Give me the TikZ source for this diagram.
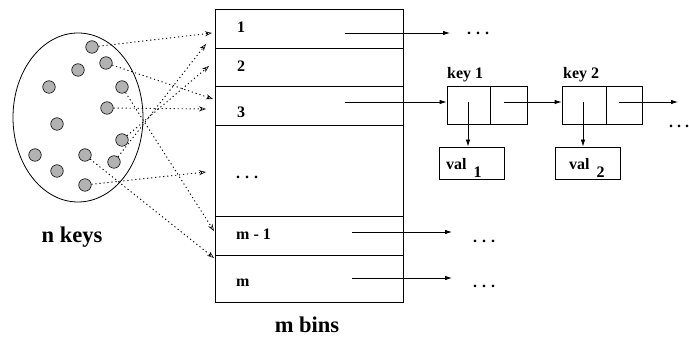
\documentclass[tikz,border=0pt]{standalone}
\usepackage{fontspec}
\setmainfont{Liberation Serif}
\usetikzlibrary{arrows.meta,shapes.geometric}

\begin{document}
\begin{tikzpicture}[x=1pt,y=-1pt,
  keydot/.style={circle,draw,fill=black!30,minimum size=12.5pt,inner sep=0pt,line width=0.6pt},
  bin/.style={draw,rectangle,inner sep=0pt,minimum width=188pt,line width=0.8pt},
  cell/.style={draw,rectangle,inner sep=0pt,minimum height=38pt,line width=0.8pt},
  valbox/.style={draw,rectangle,inner sep=0pt,minimum width=65pt,minimum height=32pt,line width=0.8pt},
  small/.style={font=\fontsize{16}{18}\selectfont\bfseries,inner sep=0pt},
  big/.style={font=\fontsize{22.5}{24}\selectfont\bfseries,inner sep=0pt},
  hashptr/.style={dash pattern=on 1.2pt off 2.8pt,line width=0.9pt,
    -{Stealth[open,length=7pt,width=5pt,line width=0.6pt,sep=0pt]}},
  ptr/.style={line width=0.8pt,-{Latex[length=7pt,width=4.5pt]}},
]
\useasboundingbox (0,0) rectangle (689,352);

% the set of keys
\node[ellipse,draw,line width=0.8pt,minimum width=130pt,minimum height=169pt] (set) at (78,117.5) {};
\node[keydot] (k1) at (92,47) {};
\node[keydot] (k2) at (106,63) {};
\node[keydot] (k3) at (78,70) {};
\node[keydot] (k4) at (49,87) {};
\node[keydot] (k5) at (122,87) {};
\node[keydot] (k6) at (107,108) {};
\node[keydot] (k7) at (57,124) {};
\node[keydot] (k8) at (122,140) {};
\node[keydot] (k9) at (35,155) {};
\node[keydot] (k10) at (85,155) {};
\node[keydot] (k11) at (114,162) {};
\node[keydot] (k12) at (57,171) {};
\node[keydot] (k13) at (85,185) {};
\node[big] (nkeys) at (72,237) {n keys};

% the table of bins
\node[bin,minimum height=39pt] (b1) at (309,28.5) {};
\node[bin,minimum height=38pt] (b2) at (309,67) {};
\node[bin,minimum height=39pt] (b3) at (309,105.5) {};
\node[bin,minimum height=91pt] (bd) at (309,170.5) {};
\node[bin,minimum height=39pt] (bm1) at (309,235.5) {};
\node[bin,minimum height=47pt] (bm) at (309,278.5) {};

\node[small,anchor=base west] (l1) at (237,33) {1};
\node[small,anchor=base west] (l2) at (237,72) {2};
\node[small,anchor=base west] (l3) at (237,118) {3};
\node[small,anchor=base west] (ld) at (236,179) {.\kern5pt.\kern5pt.};
\node[small,anchor=base west] (lm1) at (236,240) {m - 1};
\node[small,anchor=base west] (lm) at (236,287) {m};
\node[big] (mbins) at (307,325) {m bins};

% hashing of keys into bins
\coordinate (t1) at (212,33);
\coordinate (t2) at (213,99);
\coordinate (t3) at (206,109);
\coordinate (t4) at (206,44);
\coordinate (t5) at (209,66);
\coordinate (t6) at (214,231);
\coordinate (t7) at (206,172);
\coordinate (t8) at (214,258);
\draw[hashptr] (k1) -- (t1);
\draw[hashptr] (k2) -- (t2);
\draw[hashptr] (k6) -- (t3);
\draw[hashptr] (k11) -- (t4);
\draw[hashptr] (k8) -- (t5);
\draw[hashptr] (k5) -- (t6);
\draw[hashptr] (k13) -- (t7);
\draw[hashptr] (k10) -- (t8);

% chain of bin 3
\node[cell,minimum width=43pt] (c1a) at (468.5,105) {};
\node[cell,minimum width=37pt] (c1b) at (508.5,105) {};
\node[cell,minimum width=44pt] (c2a) at (584,105) {};
\node[cell,minimum width=36pt] (c2b) at (624,105) {};
\node[small,anchor=base west] (key1) at (447,79) {key 1};
\node[small,anchor=base west] (key2) at (563,79) {key 2};
\node[valbox] (v1) at (471.5,163) {};
\node[valbox] (v2) at (587.5,163) {};
\node[small,anchor=base west] (vt1) at (446,170) {val\kern7pt\raisebox{-8pt}{1}};
\node[small,anchor=base west] (vt2) at (569,170) {val\kern7pt\raisebox{-8pt}{2}};

\coordinate (p1s) at (345,33);
\coordinate (p1e) at (450,33);
\coordinate (p3s) at (345,102);
\coordinate (pm1s) at (352,232);
\coordinate (pm1e) at (452,232);
\coordinate (pms) at (352,278);
\coordinate (pme) at (452,278);
\coordinate (c1ap) at (468,102);
\coordinate (c1bp) at (504,102);
\coordinate (c2ap) at (583,102);
\coordinate (c2bp) at (619,102);
\coordinate (chainend) at (678,102);

\draw[ptr] (p1s) -- (p1e);
\draw[ptr] (p3s) -- (c1a.west |- p3s);
\draw[ptr] (pm1s) -- (pm1e);
\draw[ptr] (pms) -- (pme);
\draw[ptr] (c1ap) -- (v1.north -| c1ap);
\draw[ptr] (c1bp) -- (c2a.west |- c1bp);
\draw[ptr] (c2ap) -- (v2.north -| c2ap);
\draw[ptr] (c2bp) -- (chainend);

% continuation marks
\node[small,anchor=base west] (e1) at (467,35) {.\kern5pt.\kern5pt.};
\node[small,anchor=base west] (e2) at (473,243) {.\kern5pt.\kern5pt.};
\node[small,anchor=base west] (e3) at (473,288) {.\kern5pt.\kern5pt.};
\node[small,anchor=base west] (e4) at (669,128) {.\kern4pt.\kern4pt.};
\end{tikzpicture}
\end{document}
